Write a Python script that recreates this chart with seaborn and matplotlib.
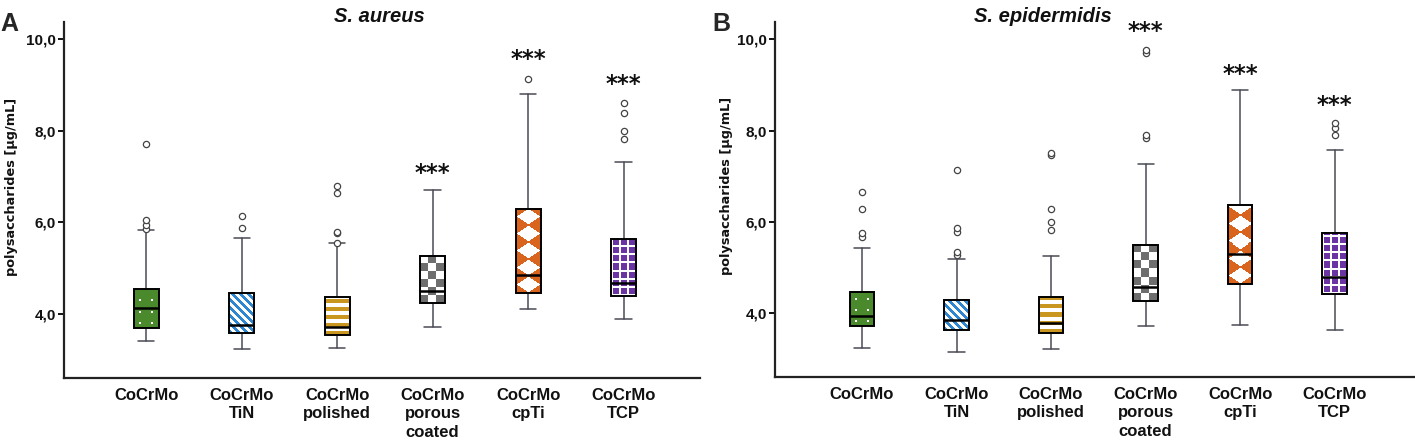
import numpy as np
import matplotlib
matplotlib.use('Agg')
import matplotlib.pyplot as plt
from matplotlib.colors import to_rgb
from matplotlib.transforms import blended_transform_factory, offset_copy
import seaborn as sns

# x categories
groups = ['CoCrMo', 'CoCrMo\nTiN', 'CoCrMo\npolished', 'CoCrMo\nporous\ncoated',
          'CoCrMo\ncpTi', 'CoCrMo\nTCP']
box_colors = ['#4a8a2c', '#2e86d1', '#c9961f', '#6e6e6e', '#d8641e', '#6b34a3']
box_patterns = ['dots', 'diag', 'hstripes', 'checker', 'diamonds', 'grid']

# S. aureus (panel A)
aureus_q1 = [3.70, 3.58, 3.54, 4.23, 4.45, 4.39]
aureus_med = [4.14, 3.76, 3.72, 4.51, 4.85, 4.68]
aureus_q3 = [4.54, 4.45, 4.36, 5.27, 6.30, 5.64]
aureus_lo = [3.40, 3.23, 3.25, 3.72, 4.10, 3.88]
aureus_hi = [5.83, 5.67, 5.54, 6.71, 8.81, 7.32]
aureus_out = [[5.85, 5.95, 6.05, 7.72], [5.88, 6.14], [5.56, 5.76, 5.80, 6.65, 6.79],
              [], [9.14], [7.83, 7.99, 8.39, 8.61]]
aureus_sig = [None, None, None, 7.18, 9.69, 9.14]

# S. epidermidis (panel B)
epi_q1 = [3.71, 3.62, 3.56, 4.27, 4.64, 4.41]
epi_med = [3.94, 3.84, 3.78, 4.58, 5.30, 4.80]
epi_q3 = [4.47, 4.29, 4.35, 5.50, 6.38, 5.75]
epi_lo = [3.23, 3.15, 3.22, 3.71, 3.74, 3.64]
epi_hi = [5.43, 5.18, 5.26, 7.26, 8.89, 7.58]
epi_out = [[5.66, 5.75, 6.28, 6.66], [5.28, 5.33, 5.77, 5.87, 7.14],
           [5.82, 5.99, 6.29, 7.47, 7.52], [7.83, 7.90, 9.69, 9.77], [], [7.91, 8.05, 8.16]]
epi_sig = [None, None, None, 10.29, 9.36, 8.67]

yticks = [4.0, 6.0, 8.0, 10.0]

sns.set_theme(style='ticks')
plt.rcParams['font.family'] = ['Liberation Sans Narrow', 'Liberation Sans', 'DejaVu Sans']

BOX_W = 0.26


def pattern_mask(kind, w, h):
    # True where the box colour goes, False where it stays white
    ii, jj = np.mgrid[0:h, 0:w]
    if kind == 'dots':
        return ~((((ii - 4) % 11) < 2) & (((jj - 5) % 12) < 2))
    if kind == 'diag':
        return ((ii + jj) // 4) % 2 == 0
    if kind == 'hstripes':
        return (ii // 4) % 2 == 0
    if kind == 'checker':
        return ((ii // 8) + (jj // 8)) % 2 == 0
    if kind == 'diamonds':
        u = ((jj + 0.5) / w) % 1 - 0.5
        v = ((ii + 0.5) / 17.0) % 1 - 0.5
        return np.abs(u) + np.abs(v) >= 0.47
    if kind == 'grid':
        return ~(((ii % 8) < 2) | ((jj % 8) < 2))
    return np.ones((h, w), bool)


def draw_panel(ax, q1, med, q3, lo, hi, out, sig, title, title_x, xlim):
    ax.set_xlim(xlim)
    ax.set_ylim(2.6, 10.38)
    stats = [dict(q1=q1[i], med=med[i], q3=q3[i], whislo=lo[i], whishi=hi[i],
                  fliers=np.array(out[i])) for i in range(len(groups))]
    ax.bxp(stats, positions=range(len(groups)), widths=BOX_W, capwidths=0.17,
           patch_artist=True, showfliers=True,
           boxprops=dict(facecolor='none', edgecolor='black', linewidth=1.4, zorder=3),
           medianprops=dict(color='black', linewidth=1.8, zorder=4),
           whiskerprops=dict(color='#4a4a55', linewidth=1.1),
           capprops=dict(color='#4a4a55', linewidth=1.1),
           flierprops=dict(marker='o', markersize=4.5, markerfacecolor='white',
                           markeredgecolor='#444444', markeredgewidth=0.9))
    # fill patterns
    for i in range(len(groups)):
        x0, x1 = i - BOX_W / 2, i + BOX_W / 2
        p0 = ax.transData.transform((x0, q1[i]))
        p1 = ax.transData.transform((x1, q3[i]))
        w = max(1, int(round(p1[0] - p0[0])))
        h = max(1, int(round(p1[1] - p0[1])))
        mask = pattern_mask(box_patterns[i], w, h)
        img = np.where(mask[..., None], np.array(to_rgb(box_colors[i])), np.ones(3))
        ax.imshow(img, extent=(x0, x1, q1[i], q3[i]), origin='lower', aspect='auto',
                  interpolation='nearest', zorder=2)
    ax.set_xlim(xlim)
    ax.set_ylim(2.6, 10.38)

    # significance stars
    star_tr = offset_copy(ax.transData, fig=ax.figure, y=-12, units='dots')
    for i, s in enumerate(sig):
        if s is not None:
            ax.text(i, s, '***', transform=star_tr, ha='center', va='baseline',
                    fontsize=16.5, fontweight='bold', family=['DejaVu Sans'], color='#111111')

    ax.set_xticks(range(len(groups)))
    ax.set_xticklabels(groups, fontsize=12, fontweight='bold', linespacing=1.3)
    ax.set_yticks(yticks)
    ax.set_yticklabels([f'{v:.1f}'.replace('.', ',') for v in yticks],
                       fontsize=11, fontweight='bold')
    ax.tick_params(axis='x', length=0, pad=7, colors='#111111')
    ax.tick_params(axis='y', length=4, width=1.4, pad=2, colors='#111111')
    ax.set_ylabel('polysaccharides [µg/mL]', fontsize=9.3, fontweight='bold',
                  family=['DejaVu Sans'], color='#111111')
    for side in ['left', 'bottom']:
        ax.spines[side].set_linewidth(1.6)
        ax.spines[side].set_color('#222222')
    sns.despine(ax=ax)
    tr = blended_transform_factory(ax.transData, ax.figure.transFigure)
    ax.text(title_x, 1 - 17 / 440, title, transform=tr, ha='center', va='center',
            fontsize=14.5, fontweight='bold', style='italic', color='#111111')


fig = plt.figure(figsize=(14.15, 4.4), dpi=100)
fig.patch.set_facecolor('white')
axA = fig.add_axes([64 / 1415, 1 - 378 / 440, (700 - 64) / 1415, (378 - 22) / 440])
axB = fig.add_axes([775 / 1415, 1 - 377 / 440, (1415 - 775) / 1415, (377 - 22) / 440])
for a in (axA, axB):
    a.set_facecolor('white')

draw_panel(axA, aureus_q1, aureus_med, aureus_q3, aureus_lo, aureus_hi, aureus_out,
           aureus_sig, 'S. aureus', 2.44, (-0.86, 5.8))
draw_panel(axB, epi_q1, epi_med, epi_q3, epi_lo, epi_hi, epi_out,
           epi_sig, 'S. epidermidis', 1.91, (-0.92, 5.85))
axA.yaxis.set_label_coords(-0.072, 0.537)
axB.yaxis.set_label_coords(-0.066, 0.537)

fig.text(0.0, 1 - 31 / 440, 'A', fontsize=18, fontweight='bold', va='baseline',
         family=['Liberation Sans', 'DejaVu Sans'])
fig.text(712 / 1415, 1 - 31 / 440, 'B', fontsize=18, fontweight='bold', va='baseline',
         family=['Liberation Sans', 'DejaVu Sans'])

fig.savefig('out.png', dpi=100)
